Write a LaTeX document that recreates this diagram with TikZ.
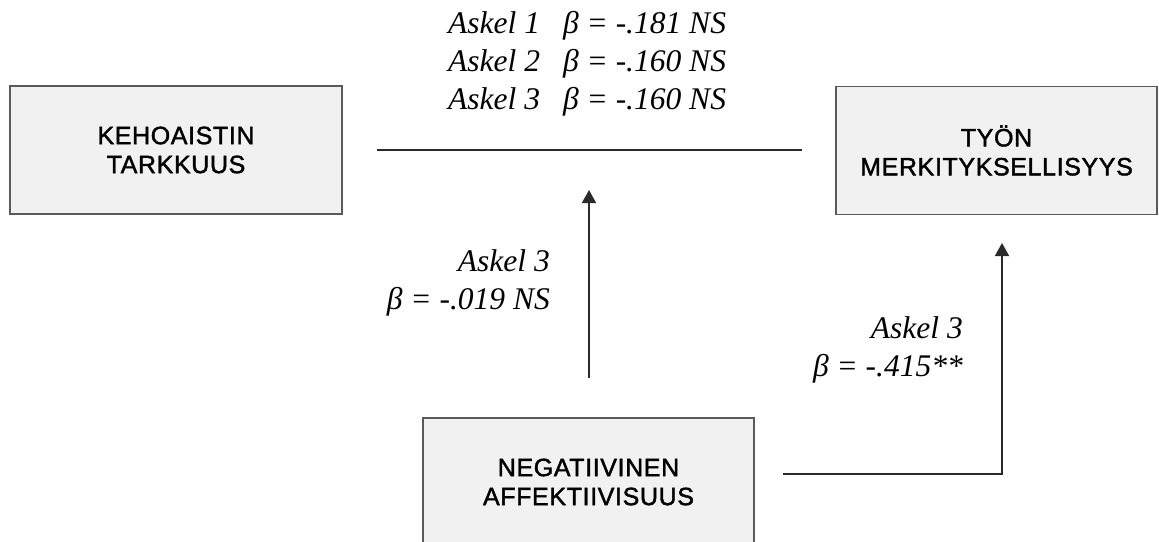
\documentclass[tikz,border=0pt]{standalone}
\usepackage{fontspec}
\setmainfont{Liberation Serif}
\newfontfamily\boxfont[LetterSpace=2.5,FakeBold=1.6]{Liberation Sans}
\usetikzlibrary{arrows.meta}
\definecolor{boxfill}{HTML}{F1F1F1}
\definecolor{boxline}{HTML}{5A5A5A}
\definecolor{conn}{HTML}{2A2A2A}
\begin{document}
\begin{tikzpicture}[x=1pt,y=-1pt,
  var/.style={draw=boxline, line width=1.6pt, fill=boxfill, minimum height=128pt, inner sep=0pt, align=center, font=\boxfont\fontsize{25}{29}\selectfont},
  conline/.style={draw=conn, line width=1.6pt},
  arr/.style={conline, -{Triangle[width=14pt,length=13pt]}},
  lab/.style={font=\itshape\fontsize{31.5}{38}\selectfont, inner sep=0pt, align=right}]
\useasboundingbox (0,0) rectangle (1159,541);
\clip (0,0) rectangle (1159,541);
% boxes
\node[var, minimum width=332pt] (keho) at (176,150) {KEHOAISTIN\\TARKKUUS};
\node[var, minimum width=321pt] (tyon) at (996.5,150.5) {TYÖN\\MERKITYKSELLISYYS};
\node[var, minimum width=331pt] (neg) at (588.5,482) {NEGATIIVINEN\\AFFEKTIIVISUUS};
% connector coordinates
\coordinate (lineL) at (377,150);
\coordinate (lineR) at (802,150);
\coordinate (modS) at (589,378);
\coordinate (modE) at (589,190);
\coordinate (negS) at (783,474);
\coordinate (tyonE) at (1002,243);
% connectors
\draw[conline] (lineL) -- (lineR);
\draw[arr] (modS) -- (modE);
\draw[arr] (negS) -| (tyonE);
% labels
\node[lab, anchor=west] (toplab) at (448,64) {\begin{tabular}{@{}l@{\hspace{23pt}}l@{}}
Askel 1 & β = -.181 NS\\
Askel 2 & β = -.160 NS\\
Askel 3 & β = -.160 NS
\end{tabular}};
\node[lab, anchor=east] (modlab) at (550,283) {Askel 3\\β = -.019 NS};
\node[lab, anchor=east] (neglab) at (963,350) {Askel 3\\β = -.415**};
\end{tikzpicture}
\end{document}
